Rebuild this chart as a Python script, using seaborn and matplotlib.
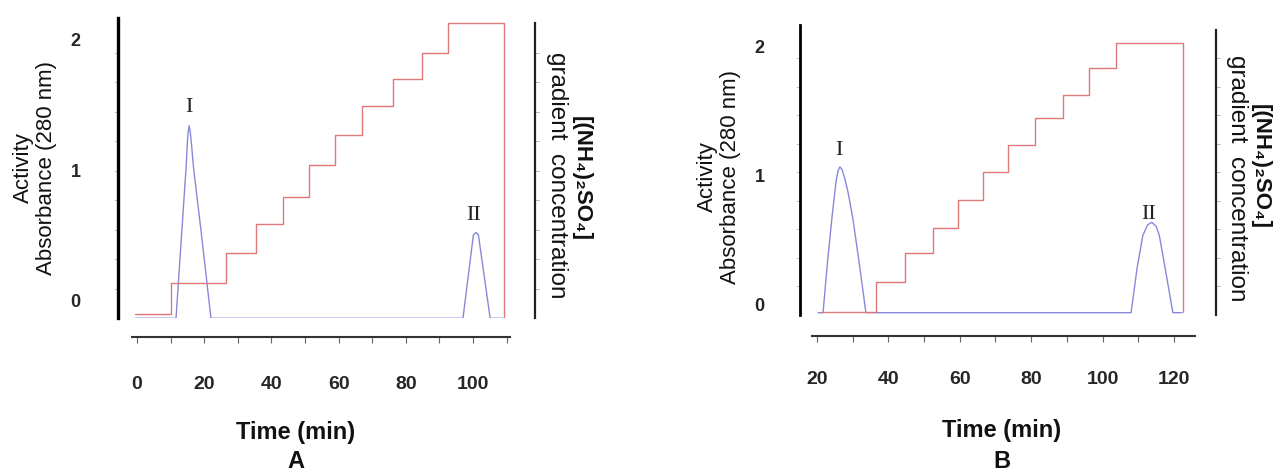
import numpy as np
import pandas as pd
import matplotlib
matplotlib.use("Agg")
import matplotlib.pyplot as plt
import seaborn as sns
from matplotlib.ticker import FixedLocator, NullFormatter

# ---------------- data ----------------
# Panel A
a_grad_time = [-0.5, 10.1, 26.5, 35.4, 43.5, 51.2, 58.9, 67.0, 76.2, 84.8, 92.6, 109.2]
a_grad_conc = [0.12, 1.2, 2.2, 3.2, 4.1, 5.2, 6.2, 7.2, 8.1, 9.0, 10.0, 0.03]
a_abs_time = [-0.5, 11.6, 13.3, 14.6, 15.0, 15.25, 15.5, 15.8, 16.2, 16.8, 19.1, 22.0,
              97.0, 100.1, 100.9, 101.6, 105.1, 108.9]
a_abs_val = [-0.14, -0.14, 0.52, 1.02, 1.22, 1.30, 1.34, 1.30, 1.20, 1.02, 0.52, -0.14,
             -0.14, 0.50, 0.52, 0.50, -0.14, -0.14]
a_xticks = [0, 20, 40, 60, 80, 100]
a_peaks = [("I", 15.5, 1.48), ("II", 100.3, 0.65)]

# Panel B
b_grad_time = [21.0, 36.5, 44.6, 52.5, 59.5, 66.5, 73.5, 81.1, 88.9, 96.2, 103.8, 122.5]
b_grad_conc = [0.12, 1.16, 2.18, 3.05, 4.04, 5.02, 5.96, 6.91, 7.72, 8.67, 9.54, 0.1]
b_abs_time = [20.3, 21.7, 22.8, 24.2, 25.3, 25.9, 26.4, 27.0, 27.8, 28.8, 30.1, 32.0, 33.7,
              108.0, 109.7, 111.3, 112.6, 113.8, 115.0, 115.9, 117.5, 119.7, 122.2]
b_abs_val = [-0.06, -0.06, 0.29, 0.68, 0.95, 1.04, 1.07, 1.05, 0.98, 0.86, 0.66, 0.29, -0.06,
             -0.06, 0.29, 0.54, 0.62, 0.64, 0.61, 0.54, 0.29, -0.06, -0.06]
b_xticks = [20, 40, 60, 80, 100, 120]
b_peaks = [("I", 26.2, 1.2), ("II", 113.0, 0.70)]

y_ticks = [0, 1, 2]
y_ticklabels = ["0", "1", "2"]
left_label = "Activity\nAbsorbance (280 nm)"
right_label_1 = "[(NH\u2084)\u2082SO\u2084]"
right_label_2 = "gradient  concentration"
x_label = "Time (min)"

RED = "#e07878"
BLUE = "#8888d8"

# ---------------- style ----------------
sns.set_style("white")
plt.rcParams["font.family"] = ["Liberation Sans", "DejaVu Sans"]

W, H = 1275, 472
fig = plt.figure(figsize=(W / 100, H / 100), dpi=100)


def rect(x0, x1, ytop, ybot):
    return [x0 / W, 1 - ybot / H, (x1 - x0) / W, (ybot - ytop) / H]


def panel(r, xlim, ylim_left, ylim_right, left_out, bottom_out, right_out,
          xpad, ypad, grad_t, grad_c, abs_t, abs_v, xticks, peaks,
          left_lw, right_lw):
    ax = fig.add_axes(r)
    ax.set_facecolor("none")
    axr = ax.twinx()
    axr.set_facecolor("none")

    sns.lineplot(x=grad_t, y=grad_c, ax=axr, color=RED, lw=1.0,
                 drawstyle="steps-post", sort=False, estimator=None)
    sns.lineplot(x=abs_t, y=abs_v, ax=ax, color=BLUE, lw=1.0,
                 sort=False, estimator=None)

    ax.set_xlim(*xlim)
    ax.set_ylim(*ylim_left)
    axr.set_ylim(*ylim_right)

    # spines
    for a in (ax, axr):
        a.spines["top"].set_visible(False)
    ax.spines["right"].set_visible(False)
    axr.spines["left"].set_visible(False)
    axr.spines["bottom"].set_visible(False)
    ax.spines["left"].set_position(("outward", left_out))
    ax.spines["left"].set_color("black")
    ax.spines["left"].set_linewidth(left_lw)
    ax.spines["bottom"].set_position(("outward", bottom_out))
    ax.spines["bottom"].set_color("#333333")
    ax.spines["bottom"].set_linewidth(1.5)
    axr.spines["right"].set_position(("outward", right_out))
    axr.spines["right"].set_color("#222222")
    axr.spines["right"].set_linewidth(right_lw)
    axr.spines["right"].set_bounds(0, 10)

    # x ticks
    ax.set_xticks(xticks)
    ax.set_xticklabels([str(v) for v in xticks], fontweight="bold")
    ax.xaxis.set_minor_locator(FixedLocator([v + 10 for v in xticks]))
    ax.tick_params(axis="x", which="both", direction="out", length=4,
                   width=0.8, color="#666666", labelsize=14, pad=xpad,
                   bottom=True)

    # left ticks
    ax.set_yticks(y_ticks)
    ax.set_yticklabels(y_ticklabels, fontweight="bold")
    ax.tick_params(axis="y", which="major", length=0, labelsize=13, pad=ypad,
                   left=True)
    lo, hi = ylim_left
    rlo, rhi = ylim_right
    minor_left = [lo + (k - rlo) / (rhi - rlo) * (hi - lo) for k in range(1, 10)]
    ax.yaxis.set_minor_locator(FixedLocator(minor_left))
    ax.tick_params(axis="y", which="minor", length=3, width=0.6,
                   color="#bbbbbb", direction="out", left=True)

    # right ticks (no labels)
    axr.set_yticks(list(range(1, 10)))
    axr.yaxis.set_major_formatter(NullFormatter())
    axr.tick_params(axis="y", which="major", length=3, width=0.6,
                    color="#aaaaaa", direction="out", right=True)

    ax.set_xlabel("")
    ax.set_ylabel("")
    axr.set_ylabel("")
    axr.set_xlabel("")

    for txt, px, py in peaks:
        ax.text(px, py, txt, ha="center", va="center", fontsize=16,
                family="Liberation Serif", color="#222222")
    return ax, axr


# Panel A
panel(rect(132, 510, 18, 318), (-1.5, 111.0), (-0.138, 2.169), (0, 10.17),
      10, 14, 18, 24, 27,
      a_grad_time, a_grad_conc, a_abs_time, a_abs_val, a_xticks, a_peaks,
      2.4, 1.6)

# Panel B
panel(rect(812, 1195, 25, 315), (18.6, 125.9), (-0.078, 2.17), (0, 10.175),
      9, 15, 15, 21, 25,
      b_grad_time, b_grad_conc, b_abs_time, b_abs_val, b_xticks, b_peaks,
      2.0, 1.6)

# axis titles
for cx, cy in [(35, 168), (719, 177)]:
    fig.text(cx / W, 1 - cy / H, left_label, rotation=90, ha="center",
             va="center", fontsize=16, linespacing=1.1, color="#111111")

for (gx, gy), (bx, by) in [((557, 175), (581, 179)), ((1237, 178), (1260, 167))]:
    fig.text(gx / W, 1 - gy / H, right_label_2, rotation=270, ha="center",
             va="center", fontsize=17.5, color="#111111")
    fig.text(bx / W, 1 - by / H, right_label_1, rotation=270, ha="center",
             va="center", fontsize=16, fontweight="bold", color="#111111")

for (tx, ty), (lx, ly), letter in [((296, 432), (296, 462), "A"),
                                   ((1002, 430), (1002, 462), "B")]:
    fig.text(tx / W, 1 - ty / H, x_label, ha="center", va="center",
             fontsize=17, fontweight="bold", color="#111111")
    fig.text(lx / W, 1 - ly / H, letter, ha="center", va="center",
             fontsize=17, fontweight="bold", color="#111111")

fig.savefig("out.png", dpi=100, facecolor="white")
